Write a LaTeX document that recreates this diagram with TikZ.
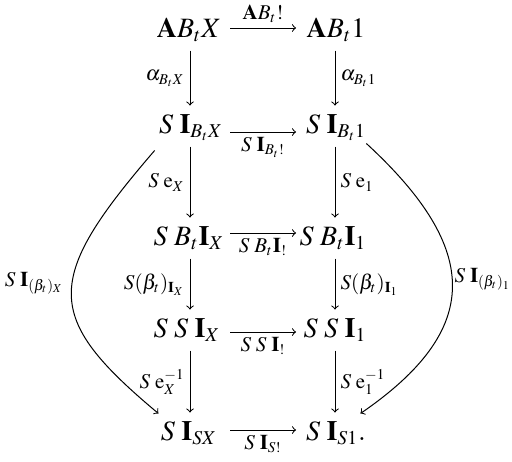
\documentclass[tikz,border=0pt]{standalone}
\usepackage{mathptmx}
\DeclareMathSizes{14}{14}{9.8}{7.2}
\DeclareMathSizes{10.5}{10.5}{7.5}{6}
\newcommand{\gapsp}{\mkern4mu}
\begin{document}
\begin{tikzpicture}[x=0.5pt,y=-0.5pt,>=to,line width=0.5pt,
  main/.style={font=\fontsize{14}{16}\selectfont,inner xsep=0pt,inner ysep=0pt,text height=10pt,text depth=3.5pt,anchor=base},
  lab/.style={font=\fontsize{10.5}{12}\selectfont,inner sep=2.5pt},
  harr/.style={->},
  varr/.style={->,shorten <=3pt,shorten >=3.5pt}]
\useasboundingbox (0,0) rectangle (512,461);
\node[main] (a1) at (189,37) {$\mathbf{A}B_tX$};
\node[main] (b1) at (336,37) {$\mathbf{A}B_t1$};
\node[main] (a2) at (191,133) {$S\gapsp\mathbf{I}_{B_tX}$};
\node[main] (b2) at (336,133) {$S\gapsp\mathbf{I}_{B_t1}$};
\node[main] (a3) at (189,245) {$S\gapsp B_t\mathbf{I}_X$};
\node[main] (b3) at (333,245) {$S\gapsp B_t\mathbf{I}_1$};
\node[main] (a4) at (187,337) {$S\gapsp S\gapsp\mathbf{I}_X$};
\node[main] (b4) at (335,337) {$S\gapsp S\gapsp\mathbf{I}_1$};
\node[main] (a5) at (189,440) {$S\gapsp\mathbf{I}_{SX}$};
\node[main] (b5) at (336,440) {$S\gapsp\mathbf{I}_{S1}.$};
\coordinate (xl) at (190,0);
\coordinate (xr) at (335,0);
\coordinate (hs) at (230,0);
\coordinate (he) at (296,0);
% horizontal
\draw[harr] ([yshift=1.25pt]a1.east -| hs) -- node[lab,above]{$\mathbf{A}B_t!$} ([yshift=1.25pt]b1.west -| he);
\draw[harr] ([yshift=-2.75pt]a2.east -| hs) -- node[lab,below]{$S\gapsp\mathbf{I}_{B_t!}$} ([yshift=-2.75pt]b2.west -| he);
\draw[harr] ([yshift=2.75pt]a3.east -| hs) -- node[lab,below]{$S\gapsp B_t\mathbf{I}_!$} ([yshift=2.75pt]b3.west -| he);
\draw[harr] ([yshift=-0.75pt]a4.east -| hs) -- node[lab,below]{$S\gapsp S\gapsp\mathbf{I}_!$} ([yshift=-0.75pt]b4.west -| he);
\draw[harr] ([yshift=1.75pt]a5.east -| hs) -- node[lab,below]{$S\gapsp\mathbf{I}_{S!}$} ([yshift=1.75pt]b5.west -| he);
% vertical left
\draw[varr] (a1.south -| xl) -- node[lab,left]{$\alpha_{B_tX}$} (a2.north -| xl);
\draw[varr] (a2.south -| xl) -- node[lab,left]{$S\gapsp\mathrm{e}_X$} (a3.north -| xl);
\draw[varr] (a3.south -| xl) -- node[lab,left]{$S(\beta_t)_{\mathbf{I}_X}$} (a4.north -| xl);
\draw[varr] (a4.south -| xl) -- node[lab,left]{$S\gapsp\mathrm{e}_X^{-1}$} (a5.north -| xl);
% vertical right
\draw[varr] (b1.south -| xr) -- node[lab,right]{$\alpha_{B_t1}$} (b2.north -| xr);
\draw[varr] (b2.south -| xr) -- node[lab,right]{$S\gapsp\mathrm{e}_1$} (b3.north -| xr);
\draw[varr] (b3.south -| xr) -- node[lab,right]{$S(\beta_t)_{\mathbf{I}_1}$} (b4.north -| xr);
\draw[varr] (b4.south -| xr) -- node[lab,right]{$S\gapsp\mathrm{e}_1^{-1}$} (b5.north -| xr);
% curves
\draw[->] ([shift={(-2pt,-5pt)}]a2.south west) .. controls (43,280) and (43,317) .. node[lab,left,inner sep=4pt,pos=0.45]{$S\gapsp\mathbf{I}_{(\beta_t)_X}$} ([shift={(-1pt,3pt)}]a5.north west);
\draw[->] ([shift={(0pt,-1.5pt)}]b2.south east) .. controls (482,250) and (482,330) .. node[lab,right,inner sep=1pt,pos=0.47]{$S\gapsp\mathbf{I}_{(\beta_t)_1}$} ([shift={(-3pt,3pt)}]b5.north east);
\end{tikzpicture}
\end{document}
